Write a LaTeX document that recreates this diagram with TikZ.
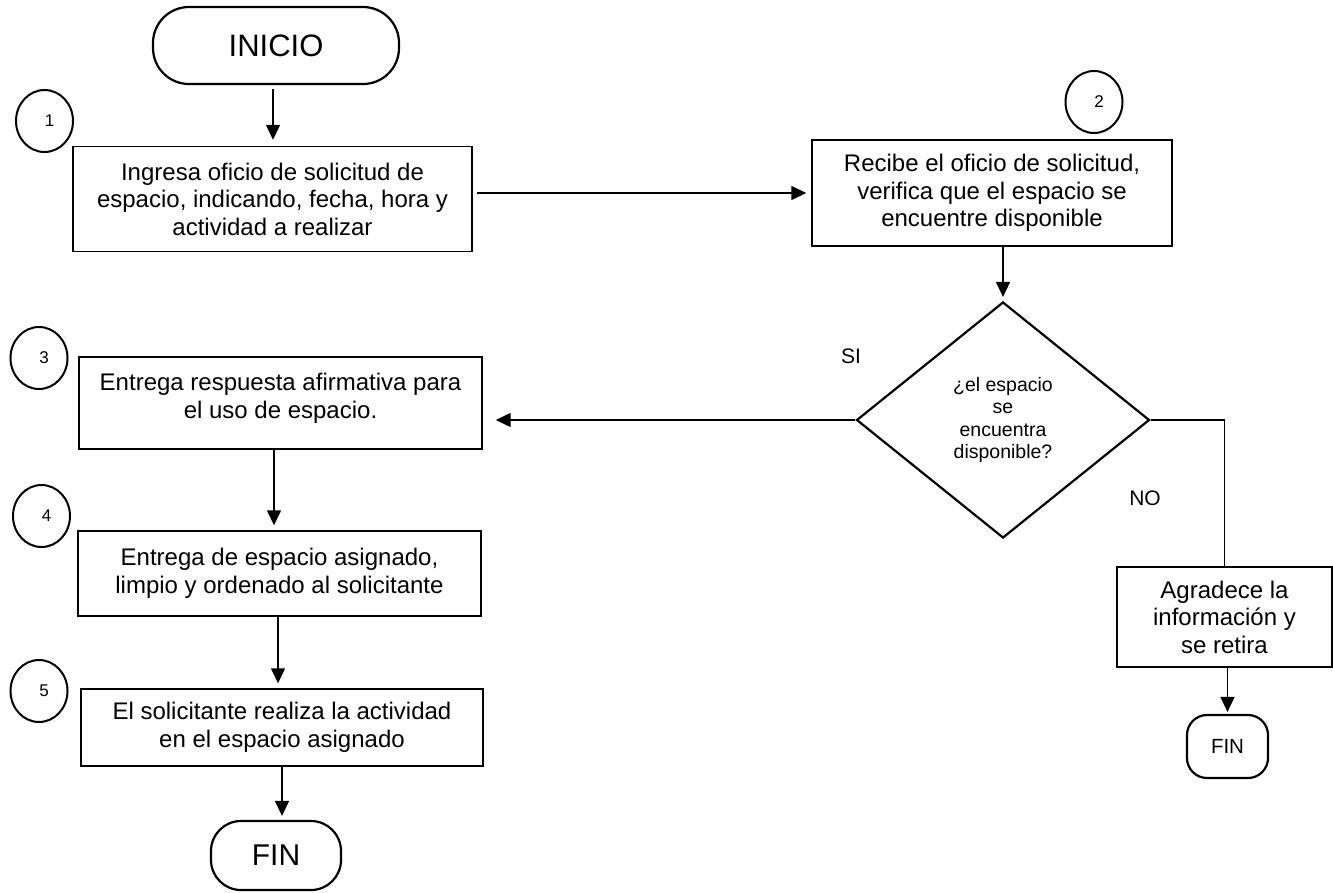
\documentclass[tikz,border=0pt]{standalone}
\usepackage{fontspec}
\setmainfont{Liberation Sans}
\usepackage{tikz}
\usetikzlibrary{arrows.meta,shapes.geometric}

\begin{document}
\begin{tikzpicture}[x=1pt, y=-1pt,
	proceso/.style={draw, line width=1.4pt, rectangle, inner sep=0pt, align=center, font=\fontsize{24}{27.5}\selectfont},
	terminal/.style={draw, line width=2.2pt, rectangle, inner sep=0pt},
	paso/.style={draw, line width=2pt, ellipse, minimum width=57pt, minimum height=62pt, inner sep=0pt, font=\fontsize{17}{17}\selectfont},
	decision/.style={draw, line width=2.2pt, diamond, minimum width=293pt, minimum height=236pt, inner sep=0pt, align=center, font=\fontsize{19.5}{22.5}\selectfont},
	rotulo/.style={font=\fontsize{21}{21}\selectfont},
	flecha/.style={line width=1.4pt, -{Triangle[length=15pt,width=14pt]}}]
						\useasboundingbox (0,0) rectangle (1333,892);
						\node[terminal, rounded corners=36pt, minimum width=246pt, minimum height=77pt, font=\fontsize{31}{31}\selectfont] (inicio) at (276,45.5) {INICIO};
						\node[paso] (p1) at (44.5,121) {\hspace*{10pt}1};
						\node[paso] (p2) at (1094,102) {\hspace*{10pt}2};
						\node[paso] (p3) at (39,358) {\hspace*{10pt}3};
						\node[paso] (p4) at (41.5,516) {\hspace*{10pt}4};
						\node[paso] (p5) at (39,691) {\hspace*{10pt}5};
						\node[proceso, minimum width=399pt, minimum height=105pt] (ingresa) at (272.5,199) {Ingresa oficio de solicitud de\\espacio, indicando, fecha, hora y\\actividad a realizar};
						\node[proceso, minimum width=360pt, minimum height=106pt] (recibe) at (992,193) {Recibe el oficio de solicitud,\\verifica que el espacio se\\encuentre disponible};
						\node[decision] (disponible) at (1003,420) {¿el espacio\\se\\encuentra\\disponible?};
						\node[proceso, minimum width=403pt, minimum height=92pt] (afirmativa) at (280.5,403) {Entrega respuesta afirmativa para\\el uso de espacio.\\[-13pt]};
						\node[proceso, minimum width=403pt, minimum height=85pt] (entrega) at (279.5,573.5) {Entrega de espacio asignado,\\limpio y ordenado al solicitante};
						\node[proceso, minimum width=402pt, minimum height=77pt] (realiza) at (282,727.5) {El solicitante realiza la actividad\\en el espacio asignado};
						\node[terminal, rounded corners=30pt, minimum width=130pt, minimum height=69pt, font=\fontsize{30}{30}\selectfont] (fin) at (276,855.5) {FIN};
						\node[proceso, minimum width=215pt, minimum height=100pt] (agradece) at (1224.5,617) {Agradece la\\información y\\se retira};
						\node[terminal, rounded corners=20pt, minimum width=81pt, minimum height=63pt, font=\fontsize{20.5}{20.5}\selectfont] (fin2) at (1227.5,746.5) {FIN};
						\node[rotulo] (si) at (851,356) {SI};
						\node[rotulo] (no) at (1145,498) {NO};
						\draw[flecha, shorten <=4pt, shorten >=6pt] (inicio.south -| 273,0) -- (ingresa.north -| 273,0);
						\draw[flecha, shorten <=4pt, shorten >=5pt] (ingresa.east |- recibe.west) -- (recibe.west);
						\draw[flecha, shorten >=4pt] (recibe.south -| disponible.north) -- (disponible.north);
						\draw[flecha, shorten >=13pt] (disponible.west) -- (disponible.west -| afirmativa.east);
						\draw[line width=1.4pt] (disponible.east) -| (agradece.north);
						\draw[flecha, shorten >=2pt] (agradece.south -| fin2.north) -- (fin2.north);
						\draw[flecha, shorten >=5pt] (afirmativa.south -| 274,0) -- (entrega.north -| 274,0);
						\draw[flecha, shorten >=5pt] (entrega.south -| 278,0) -- (realiza.north -| 278,0);
						\draw[flecha, shorten >=4pt] (realiza.south -| 282,0) -- (fin.north -| 282,0);
					\end{tikzpicture}
\end{document}
